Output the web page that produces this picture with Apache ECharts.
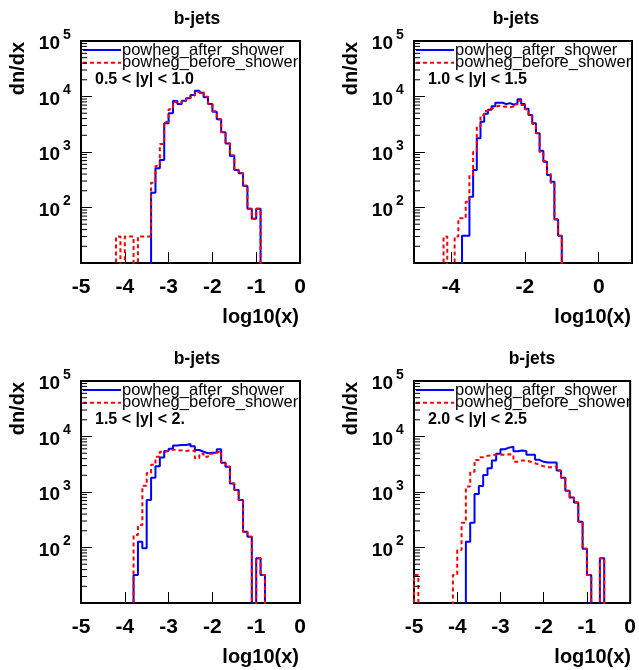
<!DOCTYPE html>
<html><head><meta charset="utf-8">
<script src="https://cdn.jsdelivr.net/npm/echarts@6/dist/echarts.min.js"></script>
<style>html,body{margin:0;padding:0;background:#fff}#c{width:639px;height:670px}</style>
</head><body><div id="c"></div>
<script>
// ---------- data (bin width 0.1 in log10(x)) ----------
const binWidth = 0.1;
const seriesNames = ['powheg_after_shower', 'powheg_before_shower'];
const panelTitles = ['b-jets', 'b-jets', 'b-jets', 'b-jets'];
const rapidityLabels = ['0.5 < |y| < 1.0', '1.0 < |y| < 1.5', '1.5 < |y| < 2.', '2.0 < |y| < 2.5'];
const yTickExponents = [2, 3, 4, 5];
const xTicksTR = [-4, -2, 0];

// panel 1 : 0.5<|y|<1.0
const p1AfterStart = -3.4;
const p1After = [185,508,718,3290,4980,8300,7330,8410,9270,10640,12740,11720,9660,7330,5330,3880,2260,1430,847,474,413,244,95,63,95];
const p1BeforeStart = -4.2;
const p1Before = [30,0,30,30,0,30,30,30,280,560,1400,3500,5900,8000,7600,8300,9300,10400,12000,12500,9900,7400,5400,3900,2300,1450,870,480,420,250,95,63,95];

// panel 2 : 1.0<|y|<1.5
const p2AfterStart = -3.7;
const p2After = [31,31,157,474,1770,3500,4900,5800,6700,7700,7700,7300,7600,7100,7600,8900,7300,6000,4640,3290,2170,1055,668,385,292,61,31];
const p2BeforeStart = -4.2;
const p2Before = [30,0,0,30,64,64,127,385,1010,2900,4600,5500,6000,6500,6800,6500,6600,6400,6600,7200,8400,7000,5900,4500,3200,2200,1000,690,420,280,62,31];

// panel 3 : 1.5<|y|<2.
const p3AfterStart = -3.8;
const p3After = [32,127,97,720,1800,2900,4200,5500,6000,6900,7000,7000,7300,6700,5700,5300,5000,5100,5100,5900,3370,2860,1430,1090,718,193,157,0,64,32];
const p3BeforeStart = -3.8;
const p3Before = [168,254,1300,2200,3100,4300,5300,5500,5800,5700,5600,5500,5600,5500,4050,4900,4300,4900,5100,5500,3370,2860,1430,1090,718,193,157,0,64,32];

// panel 4 : 2.0<|y|<2.5
const p4AfterStart = -3.8;
const p4After = [127,280,920,1280,2020,2670,3700,4900,5880,6300,6560,5400,5600,5500,4700,4700,3800,3500,3400,3400,3400,2450,1800,1050,800,650,290,95,32,0,0,64];
const p4BeforeStart = -5.0;
const p4Before = [32,0,0,0,0,0,0,0,0,32,90,280,1250,2320,3780,4220,4500,4600,4700,4700,4700,4800,4700,3500,3700,3700,3500,3300,3100,2900,2800,2800,2900,2450,1800,1050,800,650,290,95,32,0,0,64];

// ---------- layout / style ----------
const FONT = '"Liberation Sans", Arial, Helvetica, sans-serif';
const grids = [
  {left: 81, top: 41, width: 219, height: 222},
  {left: 414, top: 41, width: 218, height: 222},
  {left: 81, top: 381, width: 219, height: 222},
  {left: 414, top: 381, width: 218, height: 222}
];
const titleX = [197, 516, 197, 532];
const xMaxes = [0, 0.9, 0, 0];
const histData = [
  [p1AfterStart, p1After, p1BeforeStart, p1Before],
  [p2AfterStart, p2After, p2BeforeStart, p2Before],
  [p3AfterStart, p3After, p3BeforeStart, p3Before],
  [p4AfterStart, p4After, p4BeforeStart, p4Before]
];
const Y_MIN = 10, Y_MAX = 100000, BELOW = 1;
const BLUE = '#0000ff', RED = '#ff0000', DASH = [4, 3];

function histPoints(start, values) {
  const v = values.map(x => x > 0 ? x : BELOW);
  const pts = [[start, BELOW]];
  for (let i = 0; i < v.length; i++) pts.push([+(start + i * binWidth).toFixed(3), v[i]]);
  const end = +(start + v.length * binWidth).toFixed(3);
  pts.push([end, v[v.length - 1]]);
  pts.push([end, BELOW]);
  return pts;
}

const xAxes = [], yAxes = [], series = [];
grids.forEach((g, i) => {
  const isTR = (i === 1);
  const xa = {
    gridIndex: i, type: 'value', min: -5, max: xMaxes[i],
    axisLine: {show: false, onZero: false},
    axisTick: {inside: true, length: 11, lineStyle: {color: '#000', width: 1}},
    axisLabel: {color: '#000', fontSize: 21, fontWeight: 'bold', fontFamily: FONT, margin: 14,
                showMinLabel: true, showMaxLabel: true},
    splitLine: {show: false}
  };
  if (isTR) {
    xa.axisTick.customValues = xTicksTR;
    xa.axisLabel.customValues = xTicksTR;
  } else {
    xa.interval = 1;
  }
  xAxes.push(xa);
  yAxes.push({
    gridIndex: i, type: 'log', logBase: 10, min: Y_MIN, max: Y_MAX,
    axisLine: {show: false, onZero: false},
    axisTick: {inside: true, length: 11, lineStyle: {color: '#000', width: 1}},
    axisLabel: {show: false},
    splitLine: {show: false}
  });
  const d = histData[i];
  series.push({
    type: 'line', name: seriesNames[0], xAxisIndex: i, yAxisIndex: i,
    data: histPoints(d[0], d[1]), step: 'end', symbol: 'none', clip: true,
    lineStyle: {color: BLUE, width: 2}, itemStyle: {color: BLUE}, z: 2
  });
  series.push({
    type: 'line', name: seriesNames[1], xAxisIndex: i, yAxisIndex: i,
    data: histPoints(d[2], d[3]), step: 'end', symbol: 'none', clip: true,
    lineStyle: {color: RED, width: 2, type: DASH}, itemStyle: {color: RED}, z: 3
  });
});

const chart = echarts.init(document.getElementById('c'));
chart.setOption({
  animation: false,
  backgroundColor: '#fff',
  grid: grids.map(g => Object.assign({show: true, borderColor: '#000', borderWidth: 2, backgroundColor: 'transparent'}, g)),
  xAxis: xAxes, yAxis: yAxes, series: series
});

function txt(x, y, text, font, align, valign, extra) {
  return Object.assign({
    type: 'text', x: x, y: y, silent: true, z: 10,
    style: {text: text, font: font, fill: '#000', align: align, textAlign: align,
            verticalAlign: valign, textVerticalAlign: valign}
  }, extra || {});
}

const graphics = [];
grids.forEach((g, i) => {
  // legend (drawn per panel, as in the original)
  const legendRows = [
    {name: seriesNames[0], color: BLUE, dash: null, dy: 9},
    {name: seriesNames[1], color: RED, dash: DASH, dy: 21.7}
  ];
  legendRows.forEach(r => {
    graphics.push({type: 'line', silent: true, z: 10,
      shape: {x1: g.left + 2, y1: g.top + r.dy, x2: g.left + 40, y2: g.top + r.dy},
      style: {stroke: r.color, lineWidth: 2, lineDash: r.dash}});
    graphics.push(txt(g.left + 41, g.top + r.dy, r.name, '16.5px ' + FONT, 'left', 'middle'));
  });
  graphics.push(txt(titleX[i], g.top - 22, panelTitles[i], 'bold 17.5px ' + FONT, 'center', 'middle'));
  graphics.push(txt(g.left + 14, g.top + 39, rapidityLabels[i], 'bold 16px ' + FONT, 'left', 'middle'));
  graphics.push(txt(g.left + g.width - 1, g.top + g.height + 54, 'log10(x)', 'bold 20px ' + FONT, 'right', 'middle'));
  graphics.push(txt(g.left - 62.5, g.top + 1, 'dn/dx', 'bold 20px ' + FONT, 'right', 'middle', {rotation: Math.PI / 2}));
  yTickExponents.forEach(k => {
    const p = chart.convertToPixel({gridIndex: i}, [-5, Math.pow(10, k)]);
    graphics.push(txt(p[0] - 21, p[1] + 3, '10', 'bold 19px ' + FONT, 'right', 'middle'));
    graphics.push(txt(p[0] - 18, p[1] - 6, String(k), 'bold 14px ' + FONT, 'left', 'middle'));
  });
  for (let k = 1; k <= 4; k++) {
    for (let m = 2; m <= 9; m++) {
      const p = chart.convertToPixel({gridIndex: i}, [-5, m * Math.pow(10, k)]);
      graphics.push({type: 'line', silent: true, z: 10,
        shape: {x1: p[0], y1: p[1], x2: p[0] + 6, y2: p[1]},
        style: {stroke: '#000', lineWidth: 1}});
    }
  }
});
chart.setOption({graphic: graphics});
</script>
</body></html>
